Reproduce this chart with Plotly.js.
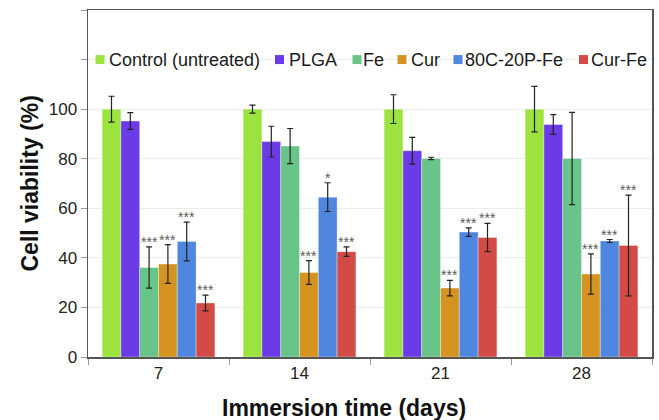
<!DOCTYPE html>
<html>
<head>
<meta charset="utf-8">
<script src="https://cdn.plot.ly/plotly-3.0.1.min.js"></script>
<style>html,body{margin:0;padding:0;background:#fff;}#chart{width:659px;height:420px;}</style>
</head>
<body>
<div id="chart"></div>
<script>
// ---- data ----
const days = ["7", "14", "21", "28"];
const seriesNames = ["Control (untreated)", "PLGA", "Fe", "Cur", "80C-20P-Fe", "Cur-Fe"];
const seriesColors = ["#9de340", "#6a3be6", "#68c488", "#d59322", "#4f86df", "#d24b46"];

const control    = [100, 100, 100, 100];
const controlErr = [5.2, 1.6, 5.8, 9.2];
const plga       = [95.2, 86.9, 83.2, 93.8];
const plgaErr    = [3.4, 6.2, 5.4, 4.0];
const fe         = [36.1, 85.1, 80.1, 80.1];
const feErr      = [8.3, 7.1, 0.5, 18.6];
const cur        = [37.5, 34.1, 27.8, 33.5];
const curErr     = [7.8, 4.8, 3.1, 8.1];
const c80        = [46.6, 64.5, 50.4, 46.8];
const c80Err     = [7.8, 5.8, 1.7, 0.6];
const curFe      = [21.8, 42.5, 48.2, 45.0];
const curFeErr   = [3.2, 1.9, 5.7, 20.3];

const controlSig = ["", "", "", ""];
const plgaSig    = ["", "", "", ""];
const feSig      = ["***", "", "", ""];
const curSig     = ["***", "***", "***", "***"];
const c80Sig     = ["***", "*", "***", "***"];
const curFeSig   = ["***", "***", "***", "***"];

const yTickVals = [0, 20, 40, 60, 80, 100, 120, 140];
const yTickText = ["0", "20", "40", "60", "80", "100", "", ""];

// ---- build ----
const values = [control, plga, fe, cur, c80, curFe];
const errors = [controlErr, plgaErr, feErr, curErr, c80Err, curFeErr];
const sigs   = [controlSig, plgaSig, feSig, curSig, c80Sig, curFeSig];

const FONT = "Arial, 'Liberation Sans', Helvetica, sans-serif";
const bargap = 0.2;
const nS = values.length;
const barW = (1 - bargap) / nS;

const traces = values.map((v, k) => ({
  type: "bar",
  name: seriesNames[k],
  x: days,
  y: v,
  marker: {color: seriesColors[k], line: {color: "rgba(255,255,255,0.35)", width: 1}},
  error_y: {type: "data", array: errors[k], visible: true, color: "#222", thickness: 1.2, width: 3},
  showlegend: false,
  hoverinfo: "skip"
}));

const annotations = [];
// significance stars
values.forEach((v, k) => {
  v.forEach((val, i) => {
    if (!sigs[k][i]) return;
    annotations.push({
      x: i - (1 - bargap) / 2 + (k + 0.5) * barW,
      y: val + errors[k][i],
      xref: "x", yref: "y",
      text: sigs[k][i],
      showarrow: false,
      yanchor: "bottom",
      yshift: -5,
      font: {family: FONT, size: 14, color: "#5a5a5a"}
    });
  });
});

// legend (manual, in one row along the 120 gridline)
const PL = 88, PW = 564;
const legendSquareX = [100, 279.5, 357, 402, 458, 583.5];
const legendTextX   = [108, 288, 362, 410, 464, 590];
const shapes = [];
seriesNames.forEach((name, k) => {
  shapes.push({
    type: "rect",
    xref: "paper", yref: "y",
    xsizemode: "pixel", ysizemode: "pixel",
    xanchor: (legendSquareX[k] - PL) / PW, yanchor: 120,
    x0: -4.5, x1: 4.5, y0: -4.5, y1: 4.5,
    fillcolor: seriesColors[k], line: {width: 0}
  });
  annotations.push({
    x: (legendTextX[k] - PL) / PW, y: 120,
    xref: "paper", yref: "y",
    xanchor: "left", yanchor: "middle",
    text: name, showarrow: false,
    bgcolor: "#ffffff", borderpad: 0,
    font: {family: FONT, size: 18, color: "#1a1a1a"}
  });
});

// axis titles
annotations.push({
  x: (344 - PL) / PW, y: -0.147, xref: "paper", yref: "paper",
  xanchor: "center", yanchor: "middle",
  text: "<b>Immersion time (days)</b>", showarrow: false,
  font: {family: FONT, size: 23, color: "#111"}
});
annotations.push({
  x: (29 - PL) / PW, y: 0.5, xref: "paper", yref: "paper",
  xanchor: "center", yanchor: "middle", textangle: -90,
  text: "<b>Cell viability (%)</b>", showarrow: false,
  font: {family: FONT, size: 23, color: "#111"}
});

const layout = {
  width: 659, height: 420,
  margin: {l: 88, r: 7, t: 10, b: 63},
  paper_bgcolor: "#fff", plot_bgcolor: "#fff",
  barmode: "group", bargap: bargap, bargroupgap: 0,
  showlegend: false,
  font: {family: FONT, size: 17, color: "#222"},
  xaxis: {
    type: "category",
    tickson: "boundaries",
    ticks: "outside", ticklen: 6, tickcolor: "#999", tickwidth: 1,
    showline: true, linecolor: "#555", linewidth: 1.5, mirror: true,
    showgrid: false, zeroline: false,
    tickfont: {family: FONT, size: 17, color: "#222"}
  },
  yaxis: {
    range: [0, 140],
    tickvals: yTickVals, ticktext: yTickText,
    ticks: "outside", ticklen: 6, tickcolor: "#999", tickwidth: 1,
    showline: true, linecolor: "#555", linewidth: 1.5, mirror: true,
    showgrid: true, gridcolor: "#ececec", gridwidth: 1,
    zeroline: false,
    tickfont: {family: FONT, size: 17, color: "#222"}
  },
  annotations: annotations,
  shapes: shapes
};

Plotly.newPlot("chart", traces, layout, {staticPlot: true, displayModeBar: false});
</script>
</body>
</html>
